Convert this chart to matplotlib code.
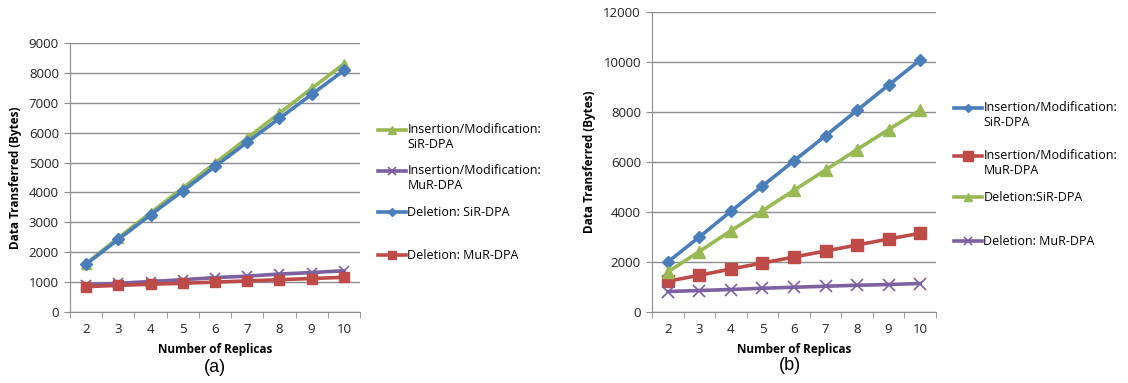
import numpy as np
import matplotlib
matplotlib.use('Agg')
import matplotlib.pyplot as plt
from matplotlib.legend_handler import HandlerLine2D

plt.rcParams['font.family'] = ['Open Sans', 'DejaVu Sans']

replicas = [2, 3, 4, 5, 6, 7, 8, 9, 10]

# (a)
a_ins_sir = [1620, 2480, 3320, 4150, 4980, 5820, 6650, 7480, 8300]
a_ins_mur = [900, 960, 1020, 1080, 1150, 1200, 1270, 1320, 1380]
a_del_sir = [1600, 2430, 3250, 4050, 4870, 5680, 6480, 7280, 8080]
a_del_mur = [850, 890, 930, 960, 1000, 1040, 1080, 1120, 1160]

# (b)
b_ins_sir = [2000, 3000, 4030, 5040, 6050, 7050, 8070, 9080, 10080]
b_ins_mur = [1230, 1470, 1720, 1960, 2200, 2440, 2680, 2920, 3150]
b_del_sir = [1600, 2420, 3250, 4050, 4870, 5680, 6500, 7300, 8080]
b_del_mur = [820, 860, 900, 950, 990, 1030, 1070, 1100, 1140]

BLUE = '#4A7EBB'
RED = '#BE4B48'
GREEN = '#98B954'
PURPLE = '#7D60A0'
GRID = '#8C8C8C'

fig = plt.figure(figsize=(11.28, 3.83), dpi=100)
ax1 = fig.add_axes([70 / 1128, 71 / 383, 290 / 1128, 269 / 383])
ax2 = fig.add_axes([652 / 1128, 71 / 383, 284 / 1128, 300 / 383])


class FirstLineHandler(HandlerLine2D):
    # legend key next to the first line of a two-line label (as Excel does)
    def __init__(self, shift=0.0, **kw):
        super().__init__(**kw)
        self.shift = shift

    def create_artists(self, legend, orig_handle, xdescent, ydescent, width, height, fontsize, trans):
        arts = super().create_artists(legend, orig_handle, xdescent, ydescent, width, height, fontsize, trans)
        for a in arts:
            a.set_ydata(np.asarray(a.get_ydata()) + self.shift * fontsize)
        return arts


def style(ax, ymax, step):
    ax.set_xlim(1.5, 10.5)
    ax.set_ylim(0, ymax)
    ax.set_yticks(range(0, ymax + 1, step))
    ax.set_xticks(replicas)
    ax.set_xticks([x + 0.5 for x in [1] + replicas], minor=True)
    ax.tick_params(axis='x', which='major', length=0, pad=8, labelsize=9.5, colors='#222222')
    ax.tick_params(axis='x', which='minor', length=4, color=GRID, direction='out')
    ax.tick_params(axis='y', length=4, color=GRID, pad=4, labelsize=9.5, colors='#222222')
    ax.yaxis.grid(True, color=GRID, linewidth=1)
    ax.set_axisbelow(True)
    for s in ['top', 'right']:
        ax.spines[s].set_visible(False)
    for s in ['left', 'bottom']:
        ax.spines[s].set_color(GRID)
    ax.set_xlabel('Number of Replicas', fontsize=8.5, fontweight='bold', labelpad=5)
    ax.set_ylabel('Data Transferred (Bytes)', fontsize=8.5, fontweight='bold', labelpad=5)


def legend_entries(lines, x, tops):
    for ln, top in zip(lines, tops):
        two = '\n' in ln.get_label()
        fig.legend([ln], [ln.get_label()], loc='upper left',
                   bbox_to_anchor=(x / 1128, 1 - top / 383),
                   frameon=False, fontsize=9, handlelength=2.2, handletextpad=0.15,
                   borderaxespad=0, borderpad=0, markerscale=0.75,
                   handler_map={ln: FirstLineHandler(shift=0.62 if two else 0.0)})


l1 = ax1.plot(replicas, a_ins_sir, color=GREEN, marker='^', linewidth=2.6, markersize=7,
              label='Insertion/Modification:\nSiR-DPA')[0]
l2 = ax1.plot(replicas, a_ins_mur, color=PURPLE, marker='x', markeredgewidth=1.2, linewidth=2.6, markersize=7,
              label='Insertion/Modification:\nMuR-DPA')[0]
l3 = ax1.plot(replicas, a_del_sir, color=BLUE, marker='D', linewidth=2.6, markersize=6,
              label='Deletion: SiR-DPA')[0]
l4 = ax1.plot(replicas, a_del_mur, color=RED, marker='s', linewidth=2.6, markersize=7,
              label='Deletion: MuR-DPA')[0]
style(ax1, 9000, 1000)

r1 = ax2.plot(replicas, b_ins_sir, color=BLUE, marker='D', linewidth=2.6, markersize=6,
              label='Insertion/Modification:\nSiR-DPA')[0]
r2 = ax2.plot(replicas, b_ins_mur, color=RED, marker='s', linewidth=2.6, markersize=9,
              label='Insertion/Modification:\nMuR-DPA')[0]
r3 = ax2.plot(replicas, b_del_sir, color=GREEN, marker='^', linewidth=2.6, markersize=8,
              label='Deletion:SiR-DPA')[0]
r4 = ax2.plot(replicas, b_del_mur, color=PURPLE, marker='x', markeredgewidth=1.2, linewidth=2.6, markersize=8,
              label='Deletion: MuR-DPA')[0]
style(ax2, 12000, 2000)

legend_entries([l1, l2, l3, l4], 378, [123, 164, 206, 249])
legend_entries([r1, r2, r3, r4], 954, [101, 149, 191, 235])

fig.text(215 / 1128, 1 - 367 / 383, '(a)', fontsize=13, family='Liberation Sans', ha='center', va='center')
fig.text(790 / 1128, 1 - 366 / 383, '(b)', fontsize=13, family='Liberation Sans', ha='center', va='center')

fig.savefig('out.png', dpi=100)
